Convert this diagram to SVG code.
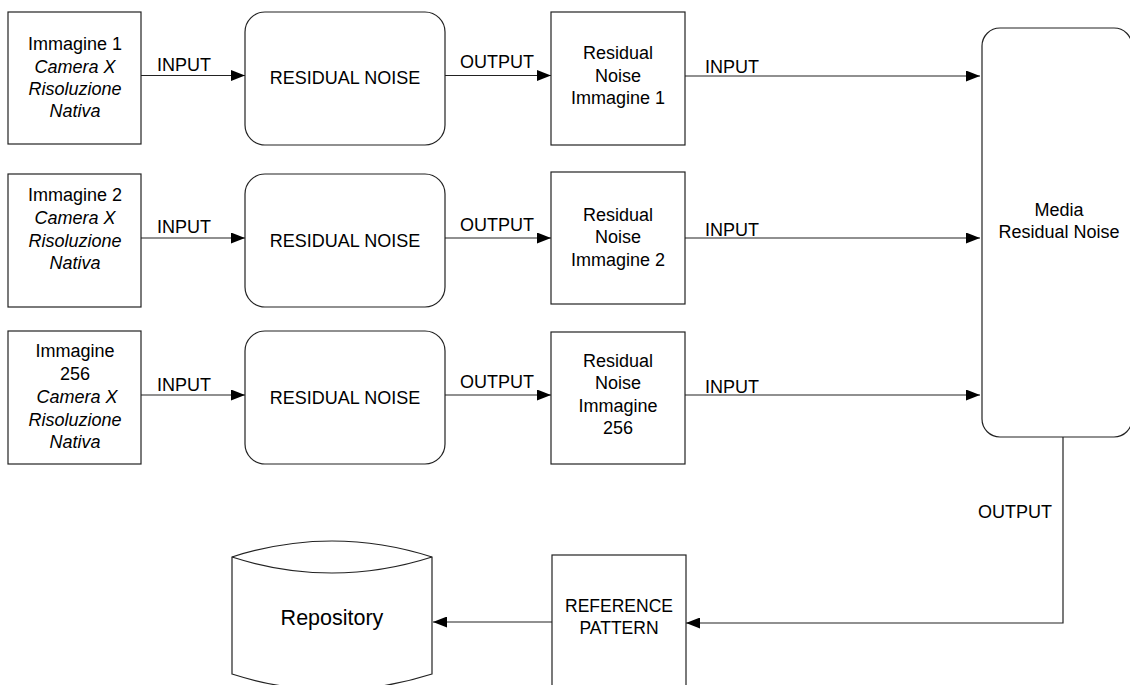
<svg xmlns="http://www.w3.org/2000/svg" width="1130" height="685" viewBox="0 0 1130 685">
<defs>
<style>
.box{fill:#fff;stroke:#222;stroke-width:1.2}
.ln{fill:none;stroke:#222;stroke-width:1.2}
text{font-family:"Liberation Sans",Arial,sans-serif;font-size:18px;fill:#000}
.c{text-anchor:middle}
.i{font-style:italic}
</style>
<marker id="arr" viewBox="0 0 14 11" refX="14" refY="5.5" markerWidth="14" markerHeight="11" markerUnits="userSpaceOnUse" orient="auto">
<path d="M0,0 L14,5.5 L0,11 Z" fill="#000"/>
</marker>
</defs>
<rect width="1130" height="685" fill="#fff"/>

<g id="connectors">
<line class="ln" x1="141" y1="75.5" x2="245" y2="75.5" marker-end="url(#arr)"/>
<line class="ln" x1="445" y1="75.5" x2="551" y2="75.5" marker-end="url(#arr)"/>
<line class="ln" x1="685" y1="76" x2="980" y2="76" marker-end="url(#arr)"/>
<line class="ln" x1="141" y1="238" x2="245" y2="238" marker-end="url(#arr)"/>
<line class="ln" x1="445" y1="238" x2="551" y2="238" marker-end="url(#arr)"/>
<line class="ln" x1="685" y1="238" x2="980" y2="238" marker-end="url(#arr)"/>
<line class="ln" x1="141" y1="395" x2="245" y2="395" marker-end="url(#arr)"/>
<line class="ln" x1="445" y1="395" x2="551" y2="395" marker-end="url(#arr)"/>
<line class="ln" x1="685" y1="395" x2="980" y2="395" marker-end="url(#arr)"/>
<polyline class="ln" points="1063,437 1063,623 686,623" marker-end="url(#arr)"/>
<line class="ln" x1="552" y1="622" x2="433" y2="622" marker-end="url(#arr)"/>
<text x="184" y="71" class="c">INPUT</text>
<text x="497" y="68" class="c">OUTPUT</text>
<text x="705" y="73">INPUT</text>
<text x="184" y="233" class="c">INPUT</text>
<text x="497" y="231" class="c">OUTPUT</text>
<text x="705" y="236">INPUT</text>
<text x="184" y="391" class="c">INPUT</text>
<text x="497" y="388" class="c">OUTPUT</text>
<text x="705" y="393">INPUT</text>
<text x="978" y="518">OUTPUT</text>
</g>

<g id="img1">
<rect class="box" x="8" y="12" width="133" height="132"/>
<text x="75" y="50" class="c">Immagine 1</text>
<text x="75" y="73" class="c i">Camera X</text>
<text x="75" y="95" class="c i">Risoluzione</text>
<text x="75" y="117" class="c i">Nativa</text>
</g>
<g id="rn1">
<rect class="box" x="245" y="12" width="200" height="133" rx="20"/>
<text x="345" y="84" class="c">RESIDUAL NOISE</text>
</g>
<g id="rni1">
<rect class="box" x="551" y="12" width="134" height="133"/>
<text x="618" y="59" class="c">Residual</text>
<text x="618" y="82" class="c">Noise</text>
<text x="618" y="104" class="c">Immagine 1</text>
</g>

<g id="img2">
<rect class="box" x="8" y="174" width="133" height="133"/>
<text x="75" y="201" class="c">Immagine 2</text>
<text x="75" y="224" class="c i">Camera X</text>
<text x="75" y="247" class="c i">Risoluzione</text>
<text x="75" y="269" class="c i">Nativa</text>
</g>
<g id="rn2">
<rect class="box" x="245" y="174" width="200" height="133" rx="20"/>
<text x="345" y="247" class="c">RESIDUAL NOISE</text>
</g>
<g id="rni2">
<rect class="box" x="551" y="172" width="134" height="132"/>
<text x="618" y="221" class="c">Residual</text>
<text x="618" y="243" class="c">Noise</text>
<text x="618" y="266" class="c">Immagine 2</text>
</g>

<g id="img256">
<rect class="box" x="8" y="331" width="133" height="133"/>
<text x="75" y="357" class="c">Immagine</text>
<text x="75" y="380" class="c">256</text>
<text x="77" y="403" class="c i">Camera X</text>
<text x="75" y="426" class="c i">Risoluzione</text>
<text x="75" y="448" class="c i">Nativa</text>
</g>
<g id="rn256">
<rect class="box" x="245" y="331" width="200" height="133" rx="20"/>
<text x="345" y="404" class="c">RESIDUAL NOISE</text>
</g>
<g id="rni256">
<rect class="box" x="551" y="332" width="134" height="132"/>
<text x="618" y="367" class="c">Residual</text>
<text x="618" y="389" class="c">Noise</text>
<text x="618" y="412" class="c">Immagine</text>
<text x="618" y="434" class="c">256</text>
</g>

<g id="media">
<rect class="box" x="982" y="28" width="150" height="409" rx="18"/>
<text x="1059" y="216" class="c">Media</text>
<text x="1059" y="238" class="c">Residual Noise</text>
</g>

<g id="refpattern">
<rect class="box" x="552" y="555" width="134" height="140"/>
<text x="619" y="612" class="c" style="font-size:17.5px">REFERENCE</text>
<text x="619" y="634" class="c" style="font-size:17.5px">PATTERN</text>
</g>

<g id="repository">
<path class="box" d="M232,557 Q332,525 432,557 L432,674 Q332,706 232,674 Z"/>
<path class="ln" d="M232,557 Q332,589 432,557"/>
<text x="332" y="625" class="c" style="font-size:21.5px">Repository</text>
</g>
</svg>
